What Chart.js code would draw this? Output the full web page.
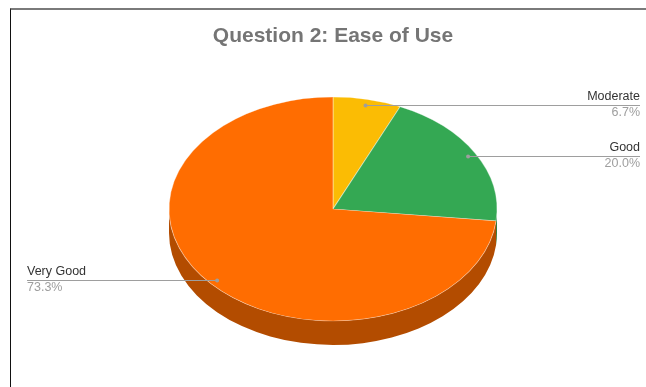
<!DOCTYPE html>
<html>
<head>
<meta charset="utf-8">
<title>Question 2: Ease of Use</title>
<script src="https://cdn.jsdelivr.net/npm/chart.js@4.4.0/dist/chart.umd.min.js"></script>
<style>
  html, body { margin: 0; padding: 0; background: #fff; }
  #wrap { position: relative; width: 646px; height: 387px; overflow: hidden; }
  #frame { position: absolute; left: 10px; top: 8px; right: 0; bottom: 0;
           border-top: 2px solid #7a7a7a; border-left: 1px solid #111; }
  #chart { position: absolute; left: 0; top: 0; }
</style>
</head>
<body>
<div id="wrap">
  <div id="frame"></div>
  <canvas id="chart" width="646" height="387"></canvas>
</div>
<script>
var labels = ['Moderate', 'Good', 'Very Good'];
var percents = [6.7, 20.0, 73.3];
var sliceColors = ['#fbbc04', '#34a853', '#ff6d01'];
var sideColors = ['#b08403', '#24763a', '#b34c00'];

// tilted-disc look: ellipse radii and thickness of the rim
var tilt = { rx: 164, ry: 112, depth: 24 };
var FONT = '"Liberation Sans", Arial, sans-serif';

var pie3d = {
  id: 'pie3d',
  beforeDatasetsDraw: function (chart) {
    var ctx = chart.ctx;
    var arcs = chart.getDatasetMeta(0).data;
    var cx = arcs[0].x, cy = arcs[0].y;

    // rim: only the front half (0..PI) is visible
    arcs.forEach(function (arc, i) {
      var a1 = Math.max(arc.startAngle, 0);
      var a2 = Math.min(arc.endAngle, Math.PI);
      if (a2 <= a1) return;
      ctx.beginPath();
      ctx.ellipse(cx, cy, tilt.rx, tilt.ry, 0, a1, a2);
      ctx.ellipse(cx, cy + tilt.depth, tilt.rx, tilt.ry, 0, a2, a1, true);
      ctx.closePath();
      ctx.fillStyle = sideColors[i];
      ctx.fill();
    });

    // squash the round pie into the top face
    var r = arcs[0].outerRadius;
    ctx.save();
    ctx.translate(cx, cy);
    ctx.scale(tilt.rx / r, tilt.ry / r);
    ctx.translate(-cx, -cy);
  },
  afterDatasetsDraw: function (chart) {
    var ctx = chart.ctx;
    ctx.restore();

    var arcs = chart.getDatasetMeta(0).data;
    var cx = arcs[0].x, cy = arcs[0].y;
    ctx.save();
    ctx.font = '12.5px ' + FONT;
    ctx.textBaseline = 'alphabetic';
    arcs.forEach(function (arc, i) {
      var mid = (arc.startAngle + arc.endAngle) / 2;
      var px = cx + tilt.rx * 0.95 * Math.cos(mid);
      var py = Math.round(cy + tilt.ry * 0.95 * Math.sin(mid));
      var right = Math.cos(mid) >= 0;
      var edge = right ? chart.width - 6 : 27;

      ctx.strokeStyle = '#9e9e9e';
      ctx.lineWidth = 1;
      ctx.beginPath();
      ctx.moveTo(px, py + 0.5);
      ctx.lineTo(edge, py + 0.5);
      ctx.stroke();

      ctx.fillStyle = '#9e9e9e';
      ctx.beginPath();
      ctx.arc(px, py + 0.5, 2, 0, Math.PI * 2);
      ctx.fill();

      ctx.textAlign = right ? 'right' : 'left';
      ctx.fillStyle = '#333333';
      ctx.fillText(labels[i], edge, py - 5);
      ctx.fillStyle = '#9e9e9e';
      ctx.fillText(percents[i].toFixed(1) + '%', edge, py + 11);
    });
    ctx.restore();
  }
};

var chart = new Chart(document.getElementById('chart'), {
  type: 'pie',
  data: {
    labels: labels,
    datasets: [{
      data: percents,
      backgroundColor: sliceColors,
      borderColor: 'rgba(255,255,255,0.4)',
      borderWidth: 1,
      clip: false
    }]
  },
  options: {
    responsive: false,
    animation: false,
    layout: { padding: { left: 20, right: 0, top: 0, bottom: 17.6 } },
    plugins: {
      legend: { display: false },
      tooltip: { enabled: false },
      title: {
        display: true,
        text: 'Question 2: Ease of Use',
        color: '#757575',
        font: { family: FONT, size: 21, weight: 'bold', lineHeight: 1.2 },
        padding: { top: 23.4, bottom: 0 }
      }
    }
  },
  plugins: [pie3d]
});
</script>
</body>
</html>
